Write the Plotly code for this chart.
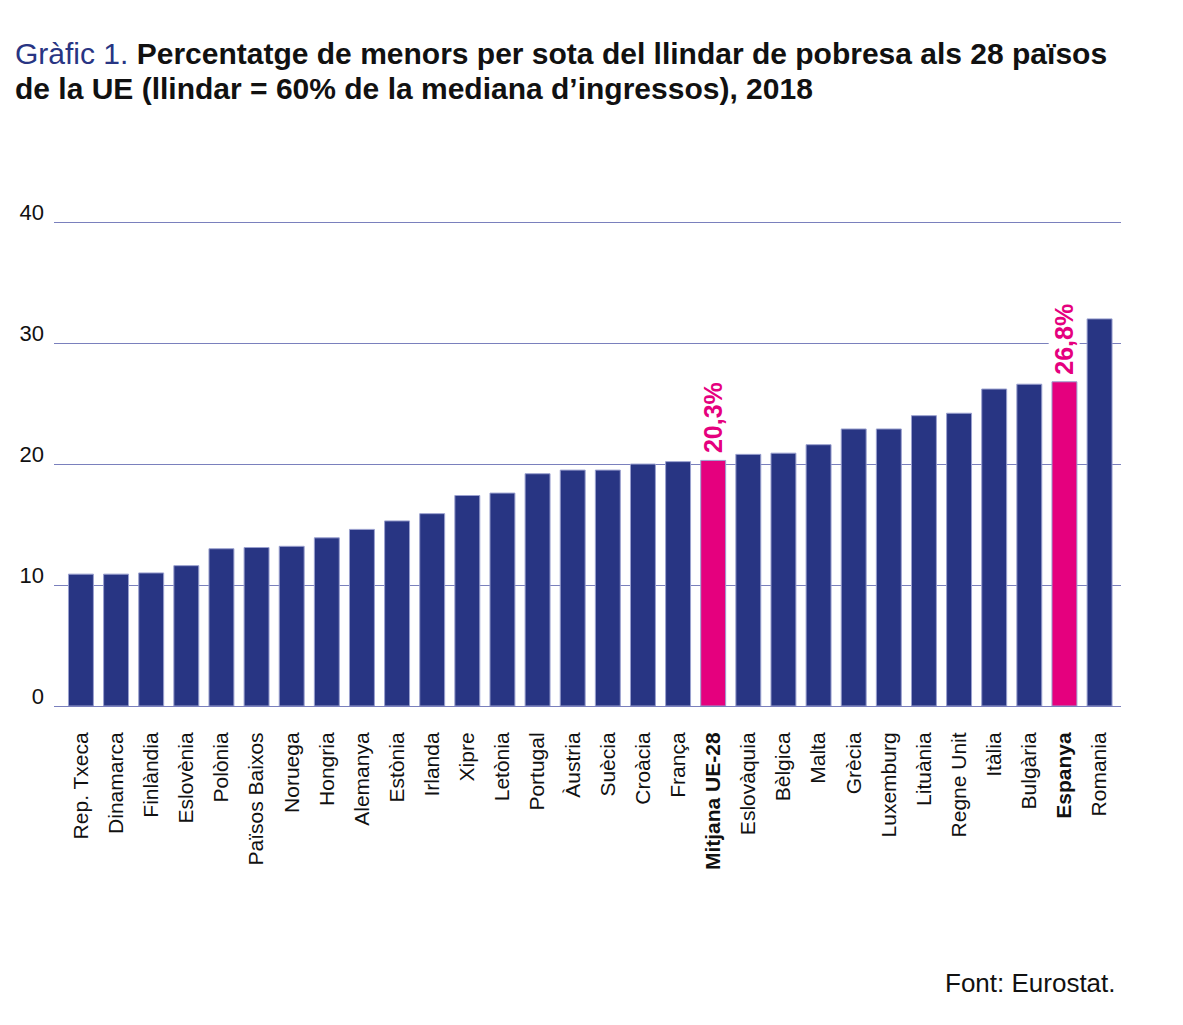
import plotly.graph_objects as go

categories = ["Rep. Txeca", "Dinamarca", "Finlàndia", "Eslovènia", "Polònia", "Països Baixos",
              "Noruega", "Hongria", "Alemanya", "Estònia", "Irlanda", "Xipre", "Letònia",
              "Portugal", "Àustria", "Suècia", "Croàcia", "França", "Mitjana UE-28",
              "Eslovàquia", "Bèlgica", "Malta", "Grècia", "Luxemburg", "Lituània",
              "Regne Unit", "Itàlia", "Bulgària", "Espanya", "Romania"]
values = [10.9, 10.9, 11.0, 11.6, 13.0, 13.1, 13.2, 13.9, 14.6, 15.3, 15.9, 17.4, 17.6,
          19.2, 19.5, 19.5, 20.0, 20.2, 20.3, 20.8, 20.9, 21.6, 22.9, 22.9, 24.0,
          24.2, 26.2, 26.6, 26.8, 32.0]
highlighted = ["Mitjana UE-28", "Espanya"]
highlight_labels = ["20,3%", "26,8%"]
y_ticks = [0, 10, 20, 30, 40]

NAVY = "#283583"
PINK = "#e5007e"
GRID = "#7a80bd"
FONT = "Liberation Sans, Arial, sans-serif"

# page has an 8px body margin: work in page pixels, then offset
OFF = 8
W, H = 1183 - OFF, 1025 - OFF
Y_TOP = 41.0                      # axis range top (40 gridline stays inside)
PX_PER_UNIT = (706 - 222) / 40.0
L, R = 52 - OFF, 1121 - OFF
B = 706 - OFF
T = B - Y_TOP * PX_PER_UNIT


def px_x(x):
    return (x - OFF - L) / (R - L)


def px_y(y):
    return (B - (y - OFF)) / (B - T)


colors = [PINK if c in highlighted else NAVY for c in categories]
tick_text = [f"<b>{c}</b>" if c in highlighted else c for c in categories]

fig = go.Figure()
fig.add_trace(go.Bar(
    x=list(range(len(categories))), y=values,
    marker=dict(color=colors, line=dict(color="#9aa0cf", width=1)),
    width=0.71, hoverinfo="skip",
))

for cat, lab in zip(highlighted, highlight_labels):
    i = categories.index(cat)
    fig.add_annotation(
        x=i, y=values[i], xref="x", yref="y", text=f"<b>{lab}</b>",
        textangle=-90, showarrow=False, xanchor="center", yanchor="bottom",
        yshift=5, bgcolor="white", borderpad=1,
        font=dict(family=FONT, size=25, color=PINK),
    )

# Title (two lines)
fig.add_annotation(
    text=("<span style='color:#283583'>Gràfic 1.</span> "
          "<b>Percentatge de menors per sota del llindar de pobresa als 28 països</b>"),
    xref="paper", yref="paper", x=px_x(11), y=px_y(53), xanchor="left", yanchor="middle",
    showarrow=False, font=dict(family=FONT, size=30, color="#111111"),
)
fig.add_annotation(
    text="<b>de la UE (llindar = 60% de la mediana d’ingressos), 2018</b>",
    xref="paper", yref="paper", x=px_x(11), y=px_y(88), xanchor="left", yanchor="middle",
    showarrow=False, font=dict(family=FONT, size=30, color="#111111"),
)

fig.add_annotation(
    text="Font: Eurostat.", xref="paper", yref="paper",
    x=px_x(1118), xanchor="right",
    y=px_y(983), yanchor="middle",
    showarrow=False, font=dict(family=FONT, size=26, color="#111111"),
)

fig.update_layout(
    width=W, height=H,
    margin=dict(l=L, r=W - R, t=T, b=H - B),
    paper_bgcolor="white", plot_bgcolor="white",
    showlegend=False,
    xaxis=dict(
        range=[-0.767, 29.61], tickmode="array",
        tickvals=list(range(len(categories))), ticktext=tick_text,
        tickangle=-90, ticks="", ticklabelstandoff=17,
        showgrid=False, showline=True, linecolor=GRID, linewidth=1,
        tickfont=dict(family=FONT, size=21, color="#111111"),
        fixedrange=True,
    ),
    yaxis=dict(
        range=[0, Y_TOP], tickmode="array", tickvals=y_ticks,
        ticktext=[str(v) for v in y_ticks],
        showgrid=True, gridcolor=GRID, gridwidth=1,
        zeroline=True, zerolinecolor=GRID, zerolinewidth=1,
        ticks="", ticklabelposition="outside top", ticklabelstandoff=9,
        ticklabelshift=6,
        tickfont=dict(family=FONT, size=22, color="#111111"),
        fixedrange=True,
    ),
)

fig.write_html("out.html")
